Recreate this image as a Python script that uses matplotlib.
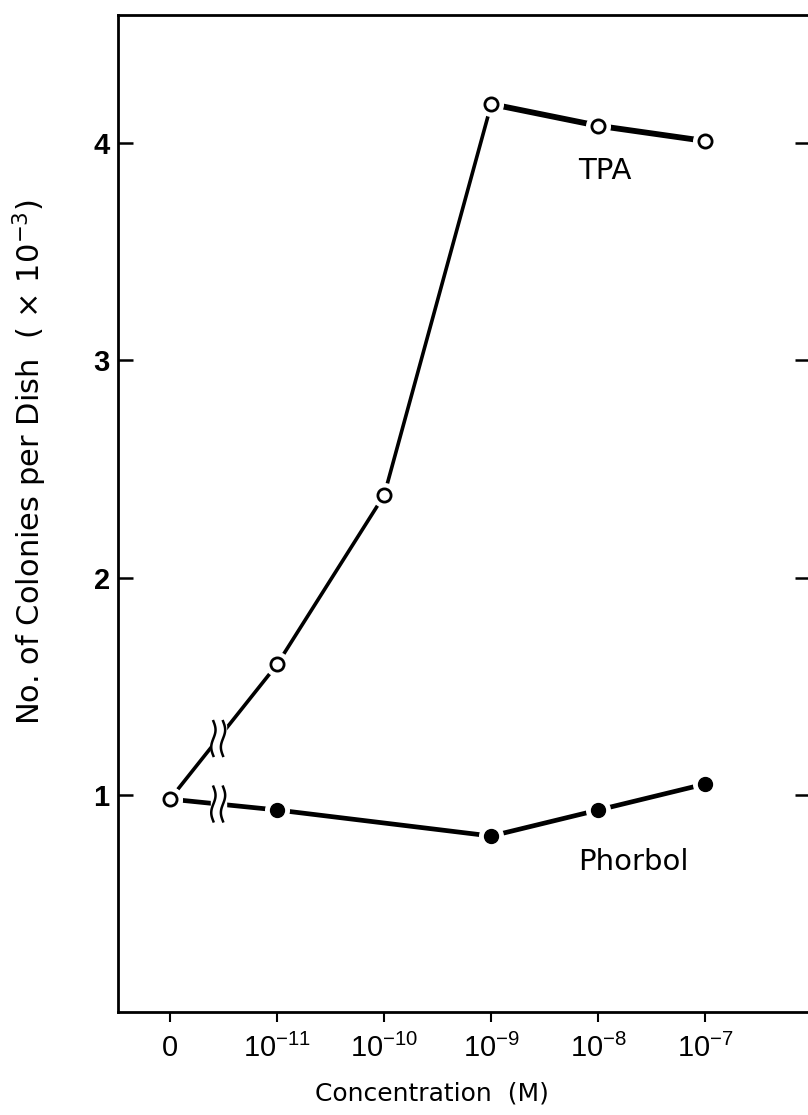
import numpy as np
import matplotlib.pyplot as plt

# data (colonies per dish, x10^3)
conc_labels = ['0', '10$^{-11}$', '10$^{-10}$', '10$^{-9}$', '10$^{-8}$', '10$^{-7}$']
tpa_x = [0, 1, 2, 3, 4, 5]
tpa_y = [0.98, 1.60, 2.38, 4.18, 4.08, 4.01]
phorbol_x = [0, 1, 3, 4, 5]
phorbol_y = [0.98, 0.93, 0.81, 0.93, 1.05]
y_ticks = [1, 2, 3, 4]

plt.rcParams['font.family'] = ['Liberation Sans', 'DejaVu Sans']
plt.rcParams['mathtext.fontset'] = 'custom'
plt.rcParams['mathtext.rm'] = 'Liberation Sans'
plt.rcParams['mathtext.default'] = 'regular'

fig = plt.figure(figsize=(8.08, 11.15), dpi=100)
ax = fig.add_axes([0.146, 0.0924, 0.857, 0.8941])
ax.set_xlim(-0.486, 5.98)
ax.set_ylim(0, 4.59)

brk = 0.45  # axis break between 0 and 10^-11


def draw_break(xs, ys):
    yb = ys[0] + (brk - xs[0]) * (ys[1] - ys[0]) / (xs[1] - xs[0])
    ax.add_patch(plt.Rectangle((brk - 0.07, yb - 0.06), 0.14, 0.12,
                               color='white', zorder=4))
    t = np.linspace(-1, 1, 40)
    for dx in (-0.045, 0.045):
        ax.plot(brk + dx + 0.02 * np.sin(t * np.pi), yb + 0.08 * t,
                color='black', lw=1.8, zorder=5)


# lines
ax.plot(phorbol_x, phorbol_y, color='black', lw=3.4, solid_capstyle='round', zorder=2)
ax.plot(tpa_x[:4], tpa_y[:4], color='black', lw=2.6, solid_capstyle='round', zorder=2)
ax.plot(tpa_x[3:], tpa_y[3:], color='black', lw=4.2, solid_capstyle='round', zorder=2)

# white halo so the lines stop short of the markers
ax.plot(tpa_x, tpa_y, 'o', ms=17, color='white', zorder=3)
ax.plot(phorbol_x, phorbol_y, 'o', ms=17, color='white', zorder=3)

draw_break(tpa_x, tpa_y)
draw_break(phorbol_x, phorbol_y)

ax.plot(phorbol_x[1:], phorbol_y[1:], 'o', ms=10, color='black', zorder=6)
ax.plot(tpa_x, tpa_y, 'o', ms=9.5, mfc='white', mec='black', mew=2, zorder=7)

ax.text(3.81, 3.87, 'TPA', fontsize=21, family='DejaVu Sans', va='center')
ax.text(3.81, 0.69, 'Phorbol', fontsize=21, family='DejaVu Sans', va='center')

ax.set_xticks(range(len(conc_labels)))
ax.set_xticklabels(conc_labels, fontsize=21)
ax.set_yticks(y_ticks)
ax.set_yticklabels([str(v) for v in y_ticks], fontsize=21, fontweight='bold')
ax.tick_params(axis='x', direction='out', length=7, width=1.5, pad=9)
ax.tick_params(axis='y', direction='in', length=11, width=1.8, pad=6, right=True)

for s in ax.spines.values():
    s.set_linewidth(2)

ax.set_xlabel('Concentration  (M)', fontsize=18, family='DejaVu Sans')
ax.xaxis.set_label_coords(0.454, -0.07)
ax.set_ylabel('No. of Colonies per Dish  ( \u00d7 10$^{-3}$)', fontsize=22,
              family='DejaVu Sans')
ax.yaxis.set_label_coords(-0.1, 0.552)

fig.savefig('out.png', dpi=100)
